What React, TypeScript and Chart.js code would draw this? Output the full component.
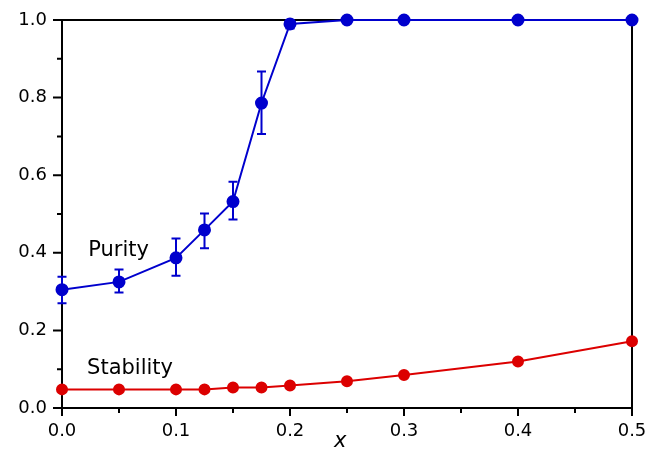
import React, { useEffect, useRef } from "react";
import { Chart, registerables } from "chart.js";

Chart.register(...registerables);

const xValues = [0, 0.05, 0.1, 0.125, 0.15, 0.175, 0.2, 0.25, 0.3, 0.4, 0.5];
const purity = [0.305, 0.325, 0.387, 0.459, 0.532, 0.786, 0.99, 1.0, 1.0, 1.0, 1.0];
const purityHigh = [0.338, 0.357, 0.437, 0.501, 0.583, 0.867, 0.998, null, null, null, null];
const purityLow = [0.27, 0.298, 0.341, 0.412, 0.486, 0.706, 0.978, null, null, null, null];
const stability = [0.048, 0.048, 0.048, 0.048, 0.053, 0.053, 0.058, 0.069, 0.085, 0.12, 0.172];

const xMajorTicks = [0, 0.1, 0.2, 0.3, 0.4, 0.5];
const xMinorTicks = [0.05, 0.15, 0.25, 0.35, 0.45];
const yMajorTicks = [0, 0.2, 0.4, 0.6, 0.8, 1.0];
const yMinorTicks = [0.1, 0.3, 0.5, 0.7, 0.9];

const seriesLabels = ["Purity", "Stability"];
const axisTitle = "x";

const BLUE = "rgb(0,0,205)";
const RED = "rgb(220,0,0)";
const FONT = "'DejaVu Sans', sans-serif";

const framePlugin = {
  id: "frameAndTicks",
  beforeDatasetsDraw(chart: any) {
    const { ctx, chartArea: a, scales } = chart;
    const xs = scales.x;
    const ys = scales.y;
    ctx.save();
    ctx.strokeStyle = "#000";
    ctx.lineWidth = 2;
    ctx.strokeRect(a.left, a.top, a.right - a.left, a.bottom - a.top);
    ctx.beginPath();
    xMajorTicks.forEach((v) => {
      const p = xs.getPixelForValue(v);
      ctx.moveTo(p, a.bottom);
      ctx.lineTo(p, a.bottom + 8);
    });
    xMinorTicks.forEach((v) => {
      const p = xs.getPixelForValue(v);
      ctx.moveTo(p, a.bottom);
      ctx.lineTo(p, a.bottom + 5);
    });
    yMajorTicks.forEach((v) => {
      const p = ys.getPixelForValue(v);
      ctx.moveTo(a.left, p);
      ctx.lineTo(a.left - 9, p);
    });
    yMinorTicks.forEach((v) => {
      const p = ys.getPixelForValue(v);
      ctx.moveTo(a.left, p);
      ctx.lineTo(a.left - 5, p);
    });
    ctx.stroke();

    // error bars
    ctx.strokeStyle = BLUE;
    ctx.lineWidth = 2;
    ctx.beginPath();
    xValues.forEach((xv, i) => {
      const hi = purityHigh[i];
      const lo = purityLow[i];
      if (hi == null || lo == null) return;
      const px = xs.getPixelForValue(xv);
      const pHi = ys.getPixelForValue(hi);
      const pLo = ys.getPixelForValue(lo);
      ctx.moveTo(px, pHi);
      ctx.lineTo(px, pLo);
      ctx.moveTo(px - 4.5, pHi);
      ctx.lineTo(px + 4.5, pHi);
      ctx.moveTo(px - 4.5, pLo);
      ctx.lineTo(px + 4.5, pLo);
    });
    ctx.stroke();
    ctx.restore();
  },
  afterDraw(chart: any) {
    const { ctx, chartArea: a, scales } = chart;
    const xs = scales.x;
    const ys = scales.y;
    ctx.save();
    ctx.fillStyle = "#000";
    ctx.textAlign = "left";
    ctx.textBaseline = "alphabetic";
    ctx.font = `21px ${FONT}`;
    ctx.fillText(seriesLabels[0], xs.getPixelForValue(0.023), ys.getPixelForValue(0.392));
    ctx.fillText(seriesLabels[1], xs.getPixelForValue(0.022), ys.getPixelForValue(0.087));
    ctx.font = `italic 21px ${FONT}`;
    ctx.textAlign = "center";
    ctx.fillText(axisTitle, xs.getPixelForValue(0.244), a.bottom + 39);
    ctx.restore();
  },
};

export default function App() {
  const ref = useRef<HTMLCanvasElement | null>(null);
  useEffect(() => {
    document.body.style.margin = "0";
    const canvas = ref.current;
    if (!canvas) return;
    const chart = new Chart(canvas, {
      type: "line",
      data: {
        datasets: [
          {
            label: seriesLabels[0],
            data: xValues.map((x, i) => ({ x, y: purity[i] })),
            borderColor: BLUE,
            backgroundColor: BLUE,
            pointBackgroundColor: BLUE,
            pointBorderColor: BLUE,
            pointRadius: 5.5,
            borderWidth: 2,
            tension: 0,
            clip: false as any,
          },
          {
            label: seriesLabels[1],
            data: xValues.map((x, i) => ({ x, y: stability[i] })),
            borderColor: RED,
            backgroundColor: RED,
            pointBackgroundColor: RED,
            pointBorderColor: RED,
            pointRadius: 5,
            borderWidth: 2,
            tension: 0,
            clip: false as any,
          },
        ],
      },
      options: {
        animation: false,
        responsive: false,
        maintainAspectRatio: false,
        layout: { padding: { left: 0, right: 24, top: 20, bottom: 0 } },
        plugins: {
          legend: { display: false },
          tooltip: { enabled: false },
        },
        scales: {
          x: {
            type: "linear",
            min: 0,
            max: 0.5,
            grid: { display: false, drawTicks: true, tickLength: 13 },
            border: { display: false },
            ticks: {
              stepSize: 0.1,
              color: "#000",
              font: { family: FONT, size: 18 },
              padding: 0,
              maxRotation: 0,
              callback: (v: any) => Number(v).toFixed(1),
            },
            afterFit: (s: any) => {
              s.height = 43;
            },
          },
          y: {
            type: "linear",
            min: 0,
            max: 1,
            grid: { display: false, drawTicks: true, tickLength: 15 },
            border: { display: false },
            ticks: {
              stepSize: 0.2,
              color: "#000",
              font: { family: FONT, size: 18 },
              padding: 0,
              callback: (v: any) => Number(v).toFixed(1),
            },
            afterFit: (s: any) => {
              s.width = 62;
            },
          },
        },
      },
      plugins: [framePlugin],
    });
    return () => chart.destroy();
  }, []);
  return (
    <div style={{ position: "absolute", left: 0, top: 0, width: 656, height: 451 }}>
      <canvas ref={ref} width={656} height={451} style={{ width: 656, height: 451, display: "block" }} />
    </div>
  );
}
